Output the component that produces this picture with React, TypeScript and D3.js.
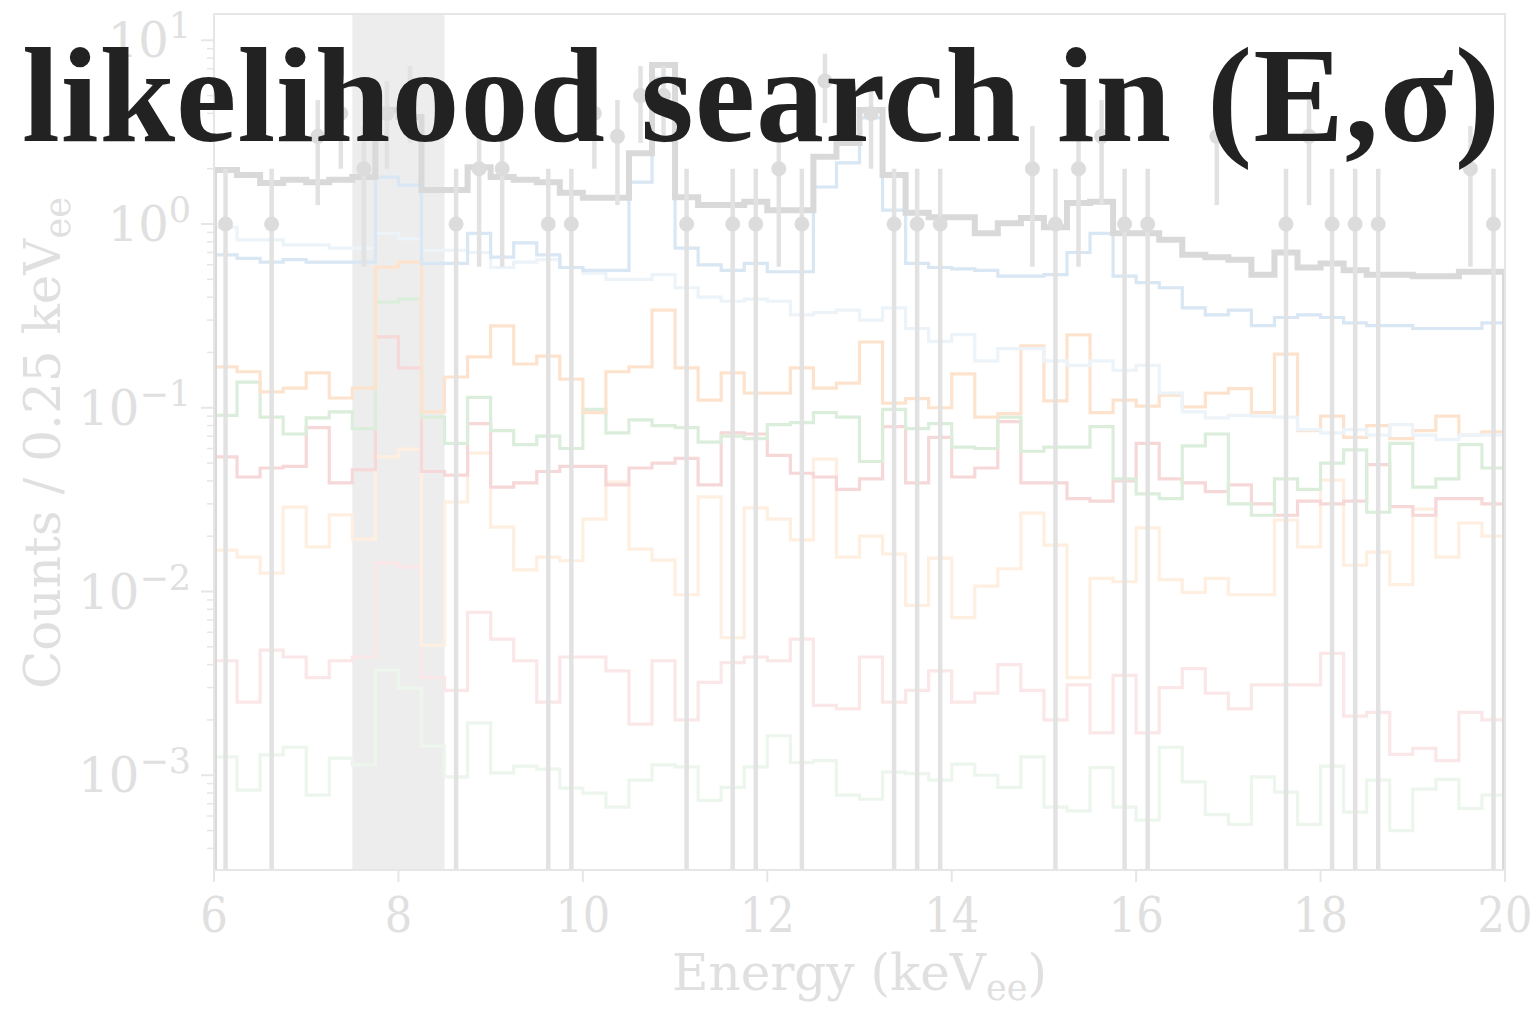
import React from 'react';
import * as d3 from 'd3';

// ---- data (per 0.25 keV bin, 6–20 keVee) ----
const binEdges = d3.range(57).map((i) => 6 + 0.25 * i);

const totalModel = [1.97, 1.85, 1.67, 1.74, 1.69, 1.74, 1.80, 4.17, 3.82, 1.53, 1.53, 2.04, 1.80, 1.74, 1.69, 1.48, 1.39, 1.39, 2.43, 7.33, 1.40, 1.27, 1.27, 1.32, 1.19, 1.19, 2.32, 2.76, 4.17, 1.85, 1.15, 1.09, 1.09, 0.89, 1.01, 1.08, 0.96, 1.30, 1.32, 0.89, 0.89, 0.82, 0.68, 0.66, 0.64, 0.53, 0.70, 0.58, 0.61, 0.56, 0.53, 0.53, 0.52, 0.52, 0.55, 0.55];
const blueMain = [0.68, 0.65, 0.62, 0.64, 0.62, 0.62, 0.62, 1.80, 1.63, 0.61, 0.61, 0.89, 0.66, 0.79, 0.68, 0.58, 0.56, 0.56, 1.69, 6.23, 0.74, 0.60, 0.56, 0.61, 0.55, 0.55, 1.59, 2.15, 3.78, 1.19, 0.61, 0.58, 0.57, 0.56, 0.52, 0.52, 0.53, 0.70, 0.89, 0.52, 0.48, 0.45, 0.35, 0.32, 0.34, 0.28, 0.31, 0.32, 0.31, 0.29, 0.28, 0.28, 0.27, 0.27, 0.27, 0.29];
const blueLight = [0.96, 0.82, 0.82, 0.77, 0.77, 0.74, 0.74, 0.89, 0.83, 0.72, 0.72, 0.70, 0.58, 0.62, 0.64, 0.58, 0.54, 0.50, 0.50, 0.53, 0.45, 0.40, 0.38, 0.39, 0.38, 0.32, 0.33, 0.34, 0.30, 0.35, 0.27, 0.23, 0.25, 0.18, 0.21, 0.21, 0.18, 0.17, 0.18, 0.16, 0.17, 0.12, 0.095, 0.088, 0.091, 0.090, 0.089, 0.076, 0.073, 0.076, 0.071, 0.081, 0.071, 0.067, 0.071, 0.071];
const orangeMain = [0.167, 0.157, 0.122, 0.128, 0.155, 0.113, 0.128, 0.583, 0.621, 0.095, 0.147, 0.189, 0.279, 0.173, 0.191, 0.143, 0.094, 0.157, 0.167, 0.340, 0.165, 0.110, 0.155, 0.120, 0.120, 0.165, 0.128, 0.136, 0.228, 0.106, 0.112, 0.100, 0.153, 0.089, 0.093, 0.217, 0.109, 0.249, 0.094, 0.110, 0.102, 0.117, 0.101, 0.120, 0.127, 0.094, 0.196, 0.075, 0.090, 0.069, 0.080, 0.068, 0.075, 0.090, 0.071, 0.074];
const greenMain = [0.091, 0.138, 0.089, 0.072, 0.088, 0.095, 0.077, 0.376, 0.391, 0.089, 0.064, 0.114, 0.075, 0.063, 0.070, 0.060, 0.098, 0.073, 0.086, 0.080, 0.078, 0.065, 0.070, 0.068, 0.081, 0.083, 0.094, 0.089, 0.051, 0.098, 0.077, 0.082, 0.061, 0.060, 0.089, 0.058, 0.061, 0.061, 0.079, 0.041, 0.034, 0.032, 0.062, 0.072, 0.030, 0.026, 0.041, 0.036, 0.050, 0.059, 0.027, 0.064, 0.037, 0.041, 0.063, 0.047];
const redMain = [0.054, 0.042, 0.047, 0.048, 0.078, 0.039, 0.046, 0.243, 0.165, 0.045, 0.043, 0.082, 0.037, 0.039, 0.045, 0.048, 0.048, 0.038, 0.047, 0.050, 0.053, 0.038, 0.073, 0.072, 0.055, 0.044, 0.042, 0.036, 0.041, 0.079, 0.039, 0.069, 0.042, 0.047, 0.084, 0.039, 0.039, 0.032, 0.031, 0.040, 0.064, 0.041, 0.039, 0.035, 0.038, 0.030, 0.026, 0.031, 0.030, 0.031, 0.049, 0.029, 0.026, 0.032, 0.032, 0.030];
const orangeLight = [0.0168, 0.0154, 0.0126, 0.0288, 0.0175, 0.0261, 0.0193, 0.054, 0.0596, 0.0051, 0.0307, 0.0567, 0.0224, 0.0131, 0.0154, 0.0147, 0.0248, 0.0394, 0.0170, 0.0148, 0.0096, 0.0327, 0.0056, 0.0285, 0.0248, 0.0191, 0.0526, 0.0154, 0.0200, 0.0160, 0.0084, 0.0152, 0.0072, 0.0107, 0.0133, 0.0267, 0.0179, 0.0034, 0.0118, 0.0113, 0.0222, 0.0116, 0.0099, 0.0118, 0.0096, 0.0096, 0.0245, 0.0175, 0.0404, 0.0139, 0.0164, 0.0109, 0.0281, 0.0154, 0.0236, 0.0200];
const redLight = [0.0042, 0.0025, 0.0048, 0.0044, 0.0034, 0.0042, 0.0044, 0.0143, 0.0136, 0.0034, 0.0029, 0.0077, 0.0055, 0.0042, 0.0025, 0.0044, 0.0044, 0.0037, 0.0019, 0.0042, 0.0020, 0.0032, 0.0041, 0.0044, 0.0042, 0.0055, 0.0024, 0.0023, 0.0044, 0.0025, 0.0029, 0.0037, 0.0025, 0.0028, 0.0040, 0.0029, 0.0020, 0.0031, 0.0017, 0.0035, 0.0017, 0.0030, 0.0038, 0.0028, 0.0023, 0.0031, 0.0031, 0.0031, 0.0046, 0.0021, 0.0022, 0.0013, 0.0014, 0.0012, 0.0022, 0.0020];
const greenLight = [0.00126, 0.00083, 0.00129, 0.00142, 0.00078, 0.00124, 0.00114, 0.00374, 0.00298, 0.00144, 0.00098, 0.00193, 0.00103, 0.00112, 0.00108, 0.00085, 0.0008, 0.00067, 0.00094, 0.00114, 0.00111, 0.00073, 0.00086, 0.00111, 0.00164, 0.00117, 0.0012, 0.00078, 0.00074, 0.00104, 0.00102, 0.00094, 0.00115, 0.001, 0.00086, 0.00126, 0.00067, 0.00064, 0.0011, 0.00067, 0.00057, 0.00142, 0.00092, 0.00061, 0.00054, 0.00098, 0.00081, 0.00054, 0.00112, 0.00063, 0.00094, 0.0005, 0.00084, 0.00095, 0.00066, 0.00078];

const observedCounts: (number | null)[] = [1, null, 1, null, 3, 4, 2, 4, 5, null, 1, 2, 2, null, 1, 1, 4, 3, 5, 5, 1, null, 1, 1, 2, 1, 6, null, 4, 1, 1, 1, null, null, null, 2, 1, 2, 3, 1, 1, null, null, 3, null, null, 1, 3, 1, 1, 1, null, null, null, 2, 1];

const shadedBand = [7.5, 8.5];
const xTicks = [6, 8, 10, 12, 14, 16, 18, 20];
const yTickExps = [-3, -2, -1, 0, 1];
const titleText = 'likelihood search in (E,σ)';

// ---- layout ----
const W = 1536;
const H = 1010;
const L = 214, R = 1505, T = 14, B = 870;

const xScale = d3.scaleLinear().domain([6, 20]).range([L, R]);
const yScale = d3.scaleLog().domain([3.05e-4, 13.9]).range([B, T]);

const series = [
  { values: greenLight, color: '#edf6ed', width: 3.2 },
  { values: redLight, color: '#fbe7e7', width: 3.2 },
  { values: orangeLight, color: '#ffefe0', width: 3.2 },
  { values: redMain, color: '#f7d8d8', width: 3.2 },
  { values: greenMain, color: '#dbeedb', width: 3.2 },
  { values: orangeMain, color: '#fde3cd', width: 3.2 },
  { values: blueLight, color: '#ecf3f9', width: 3.2 },
  { values: blueMain, color: '#d8e7f3', width: 3.2 },
  { values: totalModel, color: '#d9d9d9', width: 6 },
];

const lineGen = d3.line<[number, number]>();

function stepPath(values: number[]): string {
  const pts: [number, number][] = [[xScale(binEdges[0]), B + 10]];
  values.forEach((v, i) => {
    pts.push([xScale(binEdges[i]), yScale(v)]);
    pts.push([xScale(binEdges[i + 1]), yScale(v)]);
  });
  pts.push([xScale(binEdges[binEdges.length - 1]), B + 10]);
  return lineGen(pts) || '';
}

const FONT_COND = "'DejaVu Serif Condensed', 'DejaVu Serif', serif";
const FONT_REG = "'DejaVu Serif', serif";
const LABEL = '#e0e0e0';
const AXIS = '#e6e6e6';

export default function App() {
  const yMinor: number[] = [];
  for (let k = -4; k <= 1; k++) {
    for (let m = 2; m <= 9; m++) {
      const v = m * Math.pow(10, k);
      if (v >= 3.05e-4 && v <= 13.9) yMinor.push(v);
    }
  }
  const bottomVal = yScale.domain()[0];
  return (
    <svg
      width={W}
      height={H}
      style={{ position: 'absolute', left: 0, top: 0, background: '#fff' }}
    >
      <defs>
        <clipPath id="plotClip">
          <rect x={L} y={T} width={R - L} height={B - T} />
        </clipPath>
      </defs>
      <rect x={0} y={0} width={W} height={H} fill="#fff" />
      <g clipPath="url(#plotClip)">
        <rect
          x={xScale(shadedBand[0])}
          y={T}
          width={xScale(shadedBand[1]) - xScale(shadedBand[0])}
          height={B - T}
          fill="#ededed"
        />
        {series.map((s, i) => (
          <path
            key={i}
            d={stepPath(s.values)}
            fill="none"
            stroke={s.color}
            strokeWidth={s.width}
            strokeLinejoin="miter"
          />
        ))}
        {observedCounts.map((n, i) => {
          if (n == null) return null;
          const cx = xScale((binEdges[i] + binEdges[i + 1]) / 2);
          const lo = n - Math.sqrt(n);
          const hi = n + Math.sqrt(n);
          const y1 = lo > bottomVal ? yScale(lo) : B + 10;
          return (
            <g key={'p' + i}>
              <line x1={cx} x2={cx} y1={yScale(hi)} y2={y1} stroke="#e2e2e2" strokeWidth={4.5} />
              <circle cx={cx} cy={yScale(n)} r={7.5} fill="#dcdcdc" />
            </g>
          );
        })}
      </g>
      {/* frame */}
      <rect x={L} y={T} width={R - L} height={B - T} fill="none" stroke={AXIS} strokeWidth={2} />
      {/* y ticks */}
      {yTickExps.map((e) => {
        const yy = yScale(Math.pow(10, e));
        return (
          <g key={'yt' + e}>
            <line x1={L - 13} x2={L} y1={yy} y2={yy} stroke={AXIS} strokeWidth={2} />
            <text x={191} y={yy + 17} textAnchor="end" fontSize={48} fill={LABEL} fontFamily={FONT_REG}>
              10<tspan dy={-19} fontSize={35}>{e < 0 ? '\u2212' + Math.abs(e) : String(e)}</tspan>
            </text>
          </g>
        );
      })}
      {yMinor.map((v, i) => (
        <line key={'ym' + i} x1={L - 7} x2={L} y1={yScale(v)} y2={yScale(v)} stroke={AXIS} strokeWidth={1.5} />
      ))}
      {/* x ticks */}
      {xTicks.map((t) => (
        <g key={'xt' + t}>
          <line x1={xScale(t)} x2={xScale(t)} y1={B} y2={B + 12} stroke={AXIS} strokeWidth={2} />
          <text x={xScale(t)} y={932} textAnchor="middle" fontSize={48} fill={LABEL} fontFamily={FONT_COND} style={{ fontStretch: 'condensed' }}>
            {t}
          </text>
        </g>
      ))}
      {/* axis labels */}
      <text x={(L + R) / 2} y={990} textAnchor="middle" fontSize={50} fill={LABEL} fontFamily={FONT_REG}>
        Energy (keV<tspan dy={10} fontSize={35}>ee</tspan><tspan dy={-10}>)</tspan>
      </text>
      <text
        transform="translate(60,443) rotate(-90)"
        textAnchor="middle"
        fontSize={50}
        fill={LABEL}
        fontFamily={FONT_REG}
      >
        Counts / 0.25 keV<tspan dy={10} fontSize={35}>ee</tspan>
      </text>
      {/* title overlay */}
      <text
        x={22}
        y={141}
        fontFamily="'Liberation Serif', 'Times New Roman', serif"
        fontWeight="bold"
        fontSize={136}
        fill="#222222"
        textLength={1478}
        lengthAdjust="spacing"
      >
        {titleText}
      </text>
    </svg>
  );
}
